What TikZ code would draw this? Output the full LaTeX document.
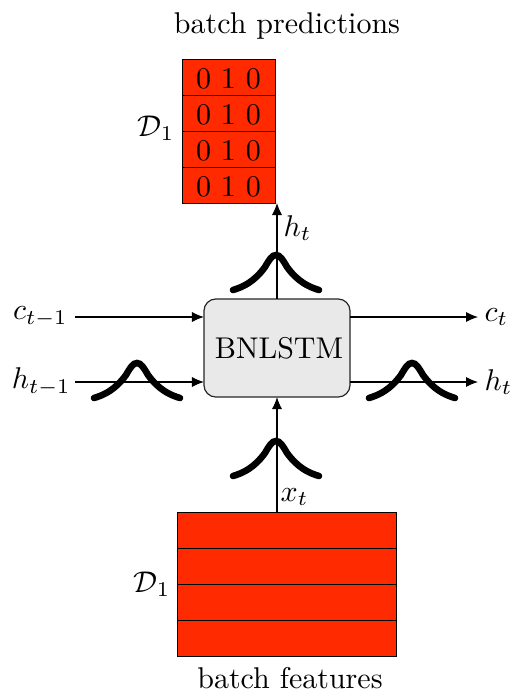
\documentclass[tikz,border=0pt]{standalone}
\usepackage{amsmath,amssymb}
\usepackage{tikz}
\usetikzlibrary{arrows.meta,positioning}
\definecolor{cRed}{RGB}{255,42,0}
\definecolor{cBox}{RGB}{233,233,233}
\tikzset{
  predrow/.style={rectangle,draw=black,line width=0.3pt,fill=cRed,outer sep=0pt,inner sep=0pt,
                  minimum width=31pt,minimum height=12pt,text height=7.8pt},
  featrow/.style={rectangle,draw=black,line width=0.3pt,fill=cRed,outer sep=0pt,inner sep=0pt,
                  minimum width=72.7pt,minimum height=12pt},
  cellbox/.style={rectangle,rounded corners=4pt,draw=black!85,fill=cBox,outer sep=0pt,
                  minimum width=48.7pt,minimum height=32.7pt,inner sep=0pt},
  arr/.style={-{Latex[length=4pt,width=3.4pt]},line width=0.35pt},
  bump/.pic={
    \draw[line width=2.2pt,line cap=round]
      (-43,35) .. controls (-33,32) and (-22,27) .. (-11,12)
      .. controls (-7,5) and (-4,0) .. (0,0)
      .. controls (4,0) and (7,5) .. (11,12)
      .. controls (22,27) and (33,32) .. (43,35);
  }
}

\begin{document}
\begin{tikzpicture}[x=0.33333pt,y=-0.33333pt]
  \useasboundingbox (0,0) rectangle (514,690);

  % Predictions
  \node[predrow] (p1) at (228.5,77) {$0\ 1\ 0$};
  \node[predrow,below=0pt of p1] (p2) {$0\ 1\ 0$};
  \node[predrow,below=0pt of p2] (p3) {$0\ 1\ 0$};
  \node[predrow,below=0pt of p3] (p4) {$0\ 1\ 0$};
  \node (ptitle) at (287,26) {batch predictions};
  \node[left=-1pt of p2.south west,yshift=1pt] (pname) {$\mathcal{D}_1$};

  % Cell
  \node[cellbox] (lstm) at (277,348) {\hspace*{1.3pt}BNLSTM};

  % Features
  \node[featrow] (f1) at (287,530) {};
  \node[featrow,below=0pt of f1] (f2) {};
  \node[featrow,below=0pt of f2] (f3) {};
  \node[featrow,below=0pt of f3] (f4) {};
  \node[inner sep=1pt] (ftitle) at (290,678) {batch features};
  \node[left=-1pt of f2.south west] (fname) {$\mathcal{D}_1$};

  % Inputs and outputs
  \node[anchor=east,inner sep=2.3pt] (cprev) at (75,317) {$c_{t-1}$};
  \node[anchor=east,inner sep=1.3pt] (hprev) at (75,382) {$h_{t-1}$};
  \node[anchor=west,inner sep=2pt] (cnext) at (478,317) {$c_t$};
  \node[anchor=west,inner sep=2pt] (hnext) at (478,382) {$h_t$};

  % Arrows
  \draw[arr] (cprev.east) -- (lstm.west |- cprev.east);
  \draw[arr] (hprev.east) -- (lstm.west |- hprev.east);
  \draw[arr] (lstm.east |- cnext.west) -- (cnext.west);
  \draw[arr] (lstm.east |- hnext.west) -- (hnext.west);
  \draw[arr] (lstm.north) -- node[pos=0.74,right=-1.3pt] (hup) {$h_t$} (lstm.north |- p4.south);
  \draw[arr] (lstm.south |- f1.north) -- node[pos=0.13,right=-2.3pt] (xin) {$x_t$} (lstm.south);

  % Bumps
  \pic at (276,255) {bump};
  \pic at (276,441) {bump};
  \pic at (137,363) {bump};
  \pic at (412,363) {bump};
\end{tikzpicture}
\end{document}
